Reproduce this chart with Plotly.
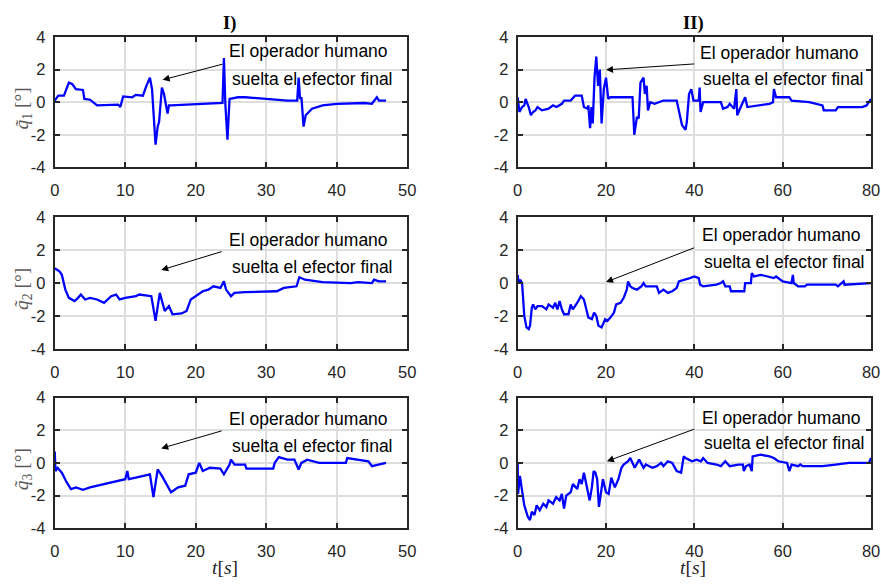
import plotly.graph_objects as go

# ---------------- data ----------------
t1 = [0, 0.5, 1.3, 2.0, 2.5, 3.0, 4.0, 4.2, 5.0, 6.0, 9.0, 9.3, 9.7, 11.0, 11.5, 12.5, 13.0, 13.5, 13.8,
      14.3, 14.6, 14.8, 15.2, 15.5, 16.0, 16.2, 16.5, 23.5, 23.8, 24.0, 24.2, 24.5, 24.8, 26, 27, 30, 33,
      34.4, 34.6, 34.8, 35.0, 35.3, 35.6, 36.5, 38, 40, 44, 45, 45.7, 46, 47]
q1_I = [0.1, 0.4, 0.4, 1.2, 1.1, 0.8, 0.75, 0.2, 0.15, -0.2, -0.15, -0.3, 0.35, 0.3, 0.45, 0.4, 1.0, 1.5, 0.8,
        -2.6, -1.5, -1.2, 0.9, 0.5, -0.7, -0.2, -0.2, -0.1, -0.05, 2.7, -0.1, -2.3, 0.2, 0.3, 0.3, 0.2, 0.1,
        0.1, 1.5, 0.2, 0.3, -1.5, -0.8, -0.4, -0.2, -0.1, -0.05, -0.1, 0.3, 0.1, 0.1]

t2 = [0, 0.7, 1.0, 1.5, 2.0, 2.8, 3.3, 3.7, 4.3, 5, 6, 7, 8, 8.7, 9.2, 10, 11.5, 12, 13.7, 14.3, 14.9,
      15.6, 16.2, 16.7, 18, 18.7, 19.3, 20, 21, 21.8, 22.5, 23.5, 24, 24.3, 25, 25.5, 27, 31.5, 32.5,
      34.3, 34.7, 35.5, 38, 42, 43, 45, 45.3, 46, 47]
q2_I = [0.9, 0.7, 0.5, -0.4, -0.9, -1.1, -0.9, -0.7, -1.0, -0.9, -1.0, -1.2, -0.8, -0.7, -1.0, -0.9, -0.8,
        -0.7, -0.8, -2.3, -0.6, -1.7, -1.4, -1.9, -1.85, -1.7, -1.0, -0.8, -0.5, -0.4, -0.2, -0.3, 0.1,
        -0.4, -0.8, -0.6, -0.55, -0.5, -0.3, -0.2, 0.35, 0.2, 0.05, 0.0, 0.05, 0.0, 0.2, 0.1, 0.1]

t3 = [0, 0.1, 0.4, 1, 1.7, 2.3, 3, 4, 5, 6, 7, 8, 9, 10, 10.3, 10.5, 11.5, 12.5, 13.5, 14, 14.6, 15.2,
      16, 16.5, 17.5, 18.5, 19, 20, 20.5, 21, 22, 23.5, 24, 24.8, 25, 25.5, 27, 27.2, 31, 31.2, 31.8,
      33, 34, 34.6, 35, 35.8, 37.5, 41.3, 41.5, 44.5, 45, 46, 47]
q3_I = [0.7, -0.5, -0.3, -0.6, -1.2, -1.6, -1.5, -1.65, -1.5, -1.4, -1.3, -1.2, -1.1, -1.0, -0.5, -1.0,
        -0.9, -0.8, -0.7, -2.1, -0.4, -0.8, -1.4, -1.8, -1.5, -1.4, -0.7, -0.6, 0.0, -0.5, -0.3, -0.35,
        -0.7, -0.1, 0.2, -0.1, -0.1, -0.35, -0.35, 0.0, 0.35, 0.2, 0.2, -0.4, 0.0, 0.2, 0.0, 0.0, 0.3,
        0.1, -0.2, -0.1, 0.0]

t4 = [0, 0.4, 1, 1.5, 1.8, 2.5, 3, 3.5, 4, 4.5, 5.5, 7, 8, 8.8, 10, 10.5, 12, 13, 14.5, 15, 15.8, 16,
      16.4, 16.7, 17.0, 17.4, 17.8, 18.2, 18.6, 19, 19.5, 20, 20.5, 21, 26, 26.4, 27, 27.4, 27.8, 28.5,
      28.8, 29.2, 29.5, 30, 31, 32, 33, 36, 36.5, 37.2, 38, 38.3, 38.8, 39.3, 39.8, 41, 41.2, 41.4, 42,
      46, 46.5, 47.5, 48, 49, 49.5, 49.7, 50.5, 51.5, 52, 55, 57, 57.8, 58, 58.5, 61.5, 62, 66, 69, 69.3,
      72, 72.5, 78, 79, 79.5, 80]
q1_II = [0.3, -0.6, -0.3, -0.2, 0.2, -0.3, -0.8, -0.6, -0.5, -0.3, -0.5, -0.4, -0.2, -0.3, -0.1, 0.1, 0.1,
         0.4, 0.4, -0.3, -0.4, -0.2, -1.6, -0.3, -1.3, 1.5, 2.8, 1.0, 2.0, -1.3, 0.8, 1.5, 0.2, 0.3, 0.3,
         -2.0, -0.9, -1.0, 1.2, 1.5, 0.5, 1.0, -0.5, 0.0, -0.1, 0.0, 0.1, 0.1, -0.5, -1.4, -1.7, -1.2, 0.5,
         0.8, 0.1, 0.1, 0.9, -0.6, 0.0, 0.0, -0.4, -0.3, -0.1, -0.4, 0.8, -0.8, -0.3, 0.3, -0.3, -0.2,
         -0.1, 0.0, 0.8, 0.3, 0.3, 0.1, 0.0, -0.2, -0.5, -0.5, -0.3, -0.3, -0.2, 0.0, 0.2]

t5 = [0, 0.2, 0.6, 1.0, 1.5, 2, 2.5, 2.8, 3.2, 3.5, 4, 4.5, 5.5, 6.5, 7, 8, 8.5, 9, 9.5, 10, 10.5, 11.5,
      12, 12.5, 13.5, 14.3, 15, 15.5, 16, 16.8, 17.3, 17.8, 18.3, 19, 19.8, 20.3, 21, 21.8, 22.3, 23.3,
      24, 24.7, 25, 25.5, 26, 27, 28, 28.5, 29, 31.5, 32, 33, 34, 35, 36, 36.5, 38, 39, 40, 41, 41.3,
      42, 45, 46, 46.5, 47, 48, 48.3, 51.3, 51.5, 52.8, 53, 53.5, 55, 58, 58.5, 60, 62, 62.3, 62.5,
      63.5, 65, 65.5, 72, 72.5, 73, 73.8, 74, 78, 80]
q2_II = [0.5, 0.0, 0.2, 0.0, -2.0, -2.7, -2.8, -2.6, -1.5, -1.3, -1.6, -1.4, -1.4, -1.6, -1.3, -1.5, -1.2,
         -1.6, -1.1, -1.6, -1.9, -1.9, -1.3, -1.6, -1.2, -0.8, -1.0, -1.5, -2.1, -2.2, -1.8, -2.0, -2.6,
         -2.7, -2.2, -2.3, -2.1, -1.8, -1.3, -1.2, -0.9, -0.4, 0.1, -0.2, -0.3, -0.4, -0.2, 0.0, -0.2,
         -0.2, -0.6, -0.4, -0.6, -0.5, -0.3, 0.1, 0.2, 0.3, 0.4, 0.3, -0.1, -0.2, -0.1, 0.0, 0.1, -0.2,
         -0.2, -0.5, -0.5, 0.0, 0.0, 0.6, 0.4, 0.5, 0.3, 0.4, 0.1, 0.0, 0.5, 0.0, -0.2, -0.2, -0.1, -0.1,
         -0.2, -0.1, 0.1, -0.1, -0.05, 0.0]

t6 = [0, 0.1, 0.5, 0.9, 1.5, 2.3, 2.8, 3.2, 3.8, 4.3, 5, 5.8, 6.5, 7, 8, 8.7, 9.5, 10, 10.5, 11, 12, 12.5,
      13.5, 14, 14.5, 15, 15.5, 16.3, 16.8, 17.2, 17.6, 18, 18.4, 18.8, 19.3, 20, 20.6, 21.2, 22, 22.8,
      23.5, 24, 25, 25.5, 26, 26.5, 27.5, 28.5, 29, 30.5, 31.5, 32.5, 33, 34, 35, 36, 37, 37.3, 37.6,
      38, 39.5, 40.5, 41.5, 42, 43, 45, 46, 47, 48, 50, 51, 51.2, 51.7, 52.5, 53, 53.2, 55, 57, 58, 59,
      61, 61.5, 62, 63.5, 64, 64.5, 69, 72, 75, 79.5, 80]
q3_II = [0.0, -1.9, -0.8, -1.5, -2.6, -3.3, -3.5, -3.0, -3.2, -2.6, -2.9, -2.5, -2.7, -2.3, -2.5, -2.1, -2.3,
         -1.9, -2.8, -2.0, -1.8, -1.3, -1.6, -1.0, -1.3, -0.6, -1.2, -2.3, -1.5, -0.5, -0.6, -1.0, -2.7,
         -2.0, -1.0, -1.8, -1.9, -0.9, -1.5, -1.0, -0.3, -0.1, 0.1, 0.3, 0.0, -0.3, 0.2, -0.3, -0.1, -0.3,
         -0.2, 0.0, -0.2, 0.1, 0.0, -0.5, -0.6, -0.1, 0.4, 0.3, 0.1, 0.2, 0.1, 0.3, 0.0, -0.1, -0.2, 0.1,
         -0.2, -0.1, -0.1, -0.5, -0.2, -0.1, -0.5, 0.4, 0.5, 0.4, 0.3, 0.1, 0.0, -0.5, -0.1, -0.2, -0.1,
         -0.2, -0.2, -0.1, 0.0, 0.0, 0.3]

y_ticks = [-4, -2, 0, 2, 4]
y_tick_text = ["-4", "-2", "0", "2", "4"]
x_ticks_I = [0, 10, 20, 30, 40, 50]
x_ticks_II = [0, 20, 40, 60, 80]
col_titles = ["<b>I)</b>", "<b>II)</b>"]
y_labels = ["<i>q̃</i><sub>1</sub> [°]", "<i>q̃</i><sub>2</sub> [°]", "<i>q̃</i><sub>3</sub> [°]"]
note_line1 = "El operador humano"
note_line2 = "suelta el efector final"

# ---------------- layout helpers ----------------
# target positions are given in pixels of the reference picture; the photographed page shows
# the 881x584 figure slightly inset, so positions are mapped back onto the figure here.
W, H = 881, 584
SX, OX = 0.9886, 3.0
SY, OY = 0.9726, 8.0
def px(x):
    return ((x - OX) / SX) / W
def py(y):
    return 1 - ((y - OY) / SY) / H

col_dom = [[px(53), px(407)], [px(518), px(873)]]
row_dom = [[py(167), py(36)], [py(349), py(217)], [py(529), py(398)]]

series = [(t1, q1_I), (t4, q1_II), (t2, q2_I), (t5, q2_II), (t3, q3_I), (t6, q3_II)]

TICKFONT = dict(family="Liberation Sans, Arial, sans-serif", size=16.5, color="#262626")
NOTEFONT = dict(family="Liberation Sans, Arial, sans-serif", size=17.5, color="#000000")

fig = go.Figure()
layout = dict(width=W, height=H, margin=dict(l=0, r=0, t=0, b=0),
              paper_bgcolor="white", plot_bgcolor="white", showlegend=False)

arrows = [  # (head_x, head_y, tail_x, tail_y)
    (15.3, 1.37, 24.0, 2.35), (20.0, 1.98, 40.3, 2.35),
    (15.1, 0.79, 23.9, 1.94), (20.0, 0.06, 40.3, 2.18),
    (15.1, 0.89, 23.9, 1.99), (20.2, 0.10, 40.3, 2.10),
]
texts = [  # (x1, y1, x2, y2)
    (24.5, 3.15, 24.9, 1.44), (40.8, 3.02, 41.5, 1.44),
    (24.5, 2.61, 24.9, 0.97), (41.3, 2.91, 41.7, 1.27),
    (24.5, 2.66, 24.9, 1.01), (41.3, 2.78, 41.7, 1.23),
]

annotations = []
for i, (tx, qy) in enumerate(series):
    r, c = divmod(i, 2)
    n = i + 1
    xa = "xaxis" if n == 1 else f"xaxis{n}"
    ya = "yaxis" if n == 1 else f"yaxis{n}"
    xr = "x" if n == 1 else f"x{n}"
    yr = "y" if n == 1 else f"y{n}"
    fig.add_trace(go.Scatter(x=tx, y=qy, mode="lines", xaxis=xr, yaxis=yr,
                             line=dict(color="#0000ff", width=2.3), hoverinfo="skip"))
    xticks = x_ticks_I if c == 0 else x_ticks_II
    layout[xa] = dict(domain=col_dom[c], anchor=yr, range=[0, xticks[-1]],
                      tickvals=xticks, ticktext=[str(v) for v in xticks],
                      showgrid=True, gridcolor="#dedede", gridwidth=1.5,
                      showline=True, linecolor="#262626", linewidth=2, mirror="ticks",
                      ticks="inside", ticklen=5, tickwidth=1.5, tickcolor="#262626",
                      tickfont=TICKFONT, ticklabelstandoff=7, zeroline=False, fixedrange=True)
    layout[ya] = dict(domain=row_dom[r], anchor=xr, range=[-4, 4],
                      tickvals=y_ticks, ticktext=y_tick_text,
                      showgrid=True, gridcolor="#dedede", gridwidth=1.5,
                      showline=True, linecolor="#262626", linewidth=2, mirror="ticks",
                      ticks="inside", ticklen=5, tickwidth=1.5, tickcolor="#262626",
                      tickfont=TICKFONT, ticklabelstandoff=4, zeroline=False, fixedrange=True)
    hx, hy, ax_, ay_ = arrows[i]
    annotations.append(dict(x=hx, y=hy, ax=ax_, ay=ay_, xref=xr, yref=yr, axref=xr, ayref=yr,
                            text="", showarrow=True, arrowhead=2, arrowsize=1.4, arrowwidth=1,
                            arrowcolor="black"))
    x1, y1, x2, y2 = texts[i]
    annotations.append(dict(x=x1, y=y1, xref=xr, yref=yr, text=note_line1, showarrow=False,
                            xanchor="left", yanchor="middle", font=NOTEFONT))
    annotations.append(dict(x=x2, y=y2, xref=xr, yref=yr, text=note_line2, showarrow=False,
                            xanchor="left", yanchor="middle", font=NOTEFONT))

for c, (title, xc) in enumerate(zip(col_titles, [229, 695])):
    annotations.append(dict(x=px(xc), y=py(23), xref="paper", yref="paper", text=title,
                            showarrow=False, xanchor="center", yanchor="middle",
                            font=dict(family="Liberation Serif, Times New Roman, serif", size=18.5, color="#000")))
for r, lab in enumerate(y_labels):
    yc = [108, 289, 470][r]
    annotations.append(dict(x=px(21), y=py(yc), xref="paper", yref="paper", text=lab,
                            showarrow=False, textangle=-90, xanchor="center", yanchor="middle",
                            font=dict(family="Liberation Serif, Times New Roman, serif", size=19.5, color="#595959")))
for xc in [224, 694]:
    annotations.append(dict(x=px(xc), y=py(568), xref="paper", yref="paper", text="<i>t</i>[<i>s</i>]",
                            showarrow=False, xanchor="center", yanchor="middle",
                            font=dict(family="Liberation Serif, Times New Roman, serif", size=19.5, color="#262626")))

layout["annotations"] = annotations
fig.update_layout(**layout)
fig.write_html("out.html")
